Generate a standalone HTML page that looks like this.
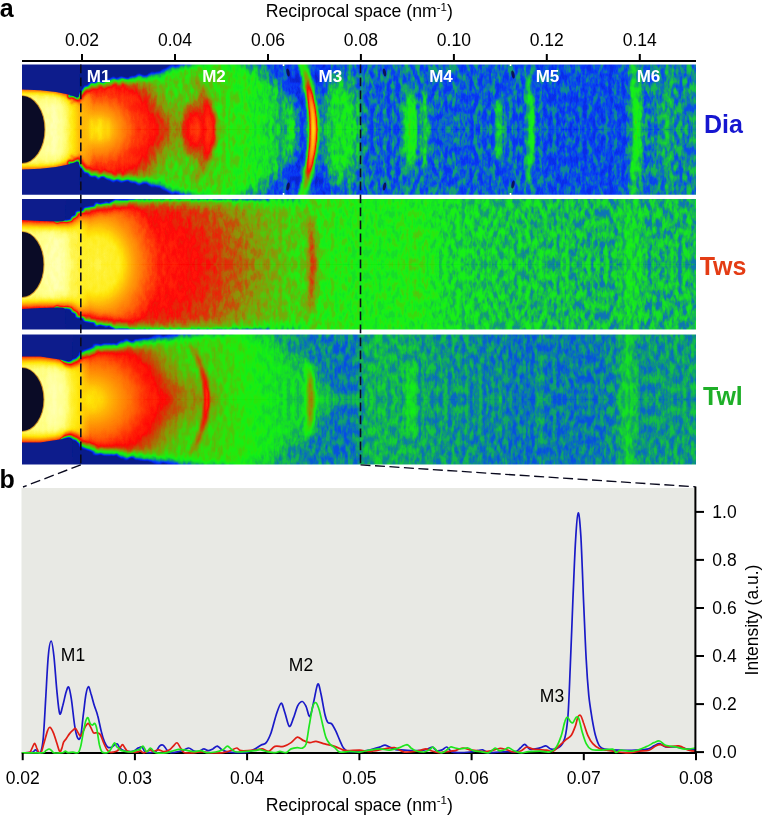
<!DOCTYPE html>
<html><head><meta charset="utf-8"><title>Figure</title>
<style>html,body{margin:0;padding:0;background:#fff}svg{display:block}text{font-family:'Liberation Sans', Arial, sans-serif}</style>
</head><body>
<svg width="762" height="816" viewBox="0 0 762 816">
<defs>
<filter id="cm" color-interpolation-filters="sRGB" filterUnits="userSpaceOnUse" x="0" y="-2" width="674" height="72">
<feComponentTransfer>
<feFuncR type="table" tableValues="0.039 0.039 0.039 0.024 0.008 0.005 0.001 0.006 0.016 0.040 0.060 0.067 0.047 0.121 0.257 0.393 0.529 0.647 0.765 0.882 1.000 1.000 1.000 1.000 1.000 1.000 1.000 1.000 1.000 1.000 1.000 1.000 1.000 1.000 1.000 1.000 1.000 1.000 1.000 1.000 1.000"/>
<feFuncG type="table" tableValues="0.110 0.110 0.110 0.110 0.110 0.146 0.182 0.277 0.412 0.576 0.731 0.860 0.946 0.915 0.806 0.697 0.588 0.441 0.294 0.147 0.000 0.098 0.196 0.294 0.392 0.486 0.565 0.643 0.722 0.800 0.878 0.921 0.940 0.959 0.977 0.996 1.000 1.000 1.000 1.000 1.000"/>
<feFuncB type="table" tableValues="0.549 0.549 0.549 0.676 0.804 0.886 0.967 0.904 0.745 0.488 0.275 0.142 0.069 0.033 0.022 0.011 0.000 0.000 0.000 0.000 0.000 0.000 0.000 0.000 0.000 0.000 0.000 0.000 0.000 0.000 0.000 0.061 0.163 0.266 0.368 0.470 0.529 0.578 0.627 0.676 0.725"/>
</feComponentTransfer>
</filter>
<filter id="rag" color-interpolation-filters="sRGB" x="-10%" y="-10%" width="120%" height="120%">
<feTurbulence type="fractalNoise" baseFrequency="0.14 0.25" numOctaves="2" seed="7" result="t"/>
<feDisplacementMap in="SourceGraphic" in2="t" scale="8" xChannelSelector="R" yChannelSelector="G" result="d"/>
<feGaussianBlur in="d" stdDeviation="1.3"/>
</filter>
<filter id="smooth" x="-10%" y="-10%" width="120%" height="120%"><feGaussianBlur stdDeviation="0.6"/></filter>
<clipPath id="cliphalf"><rect x="0" y="0" width="674" height="66"/></clipPath><clipPath id="clipfull"><rect x="0" y="0" width="674" height="131"/></clipPath><filter id="b8" filterUnits="userSpaceOnUse" x="-60" y="-80" width="800" height="300"><feGaussianBlur stdDeviation="8"/></filter><radialGradient id="rg1"><stop offset="0" stop-color="rgb(187,187,187)" stop-opacity="1"/><stop offset="0.1" stop-color="rgb(178,178,178)" stop-opacity="1"/><stop offset="0.2" stop-color="rgb(163,163,163)" stop-opacity="1"/><stop offset="0.3" stop-color="rgb(148,148,148)" stop-opacity="1"/><stop offset="0.4" stop-color="rgb(135,135,135)" stop-opacity="1"/><stop offset="0.51" stop-color="rgb(128,128,128)" stop-opacity="1"/><stop offset="0.58" stop-color="rgb(117,117,117)" stop-opacity="1"/><stop offset="0.66" stop-color="rgb(105,105,105)" stop-opacity="1"/><stop offset="0.76" stop-color="rgb(92,92,92)" stop-opacity="0.9"/><stop offset="0.88" stop-color="rgb(84,84,84)" stop-opacity="0.5"/><stop offset="1" stop-color="rgb(82,82,82)" stop-opacity="0"/></radialGradient><filter id="b7" filterUnits="userSpaceOnUse" x="-60" y="-80" width="800" height="300"><feGaussianBlur stdDeviation="7"/></filter><filter id="b1_2" filterUnits="userSpaceOnUse" x="-60" y="-80" width="800" height="300"><feGaussianBlur stdDeviation="1.2"/></filter><linearGradient id="hg2" gradientUnits="userSpaceOnUse" x1="-2" y1="0" x2="72" y2="0"><stop offset="0.0000" stop-color="rgb(219,219,219)" stop-opacity="1"/><stop offset="0.3000" stop-color="rgb(224,224,224)" stop-opacity="1"/><stop offset="0.4500" stop-color="rgb(230,230,230)" stop-opacity="1"/><stop offset="0.5500" stop-color="rgb(219,219,219)" stop-opacity="1"/><stop offset="0.6500" stop-color="rgb(201,201,201)" stop-opacity="1"/><stop offset="0.7400" stop-color="rgb(184,184,184)" stop-opacity="1"/><stop offset="0.8000" stop-color="rgb(173,173,173)" stop-opacity="1"/><stop offset="0.8700" stop-color="rgb(173,173,173)" stop-opacity="0.8"/><stop offset="1.0000" stop-color="rgb(178,178,178)" stop-opacity="0"/></linearGradient><filter id="b5" filterUnits="userSpaceOnUse" x="-60" y="-80" width="800" height="300"><feGaussianBlur stdDeviation="5"/></filter><radialGradient id="rg3"><stop offset="0" stop-color="rgb(255,255,255)" stop-opacity="0.22"/><stop offset="0.55" stop-color="rgb(255,255,255)" stop-opacity="0.16"/><stop offset="1" stop-color="rgb(255,255,255)" stop-opacity="0"/></radialGradient><linearGradient id="ag_1m2" gradientUnits="userSpaceOnUse" x1="0" y1="9.5" x2="0" y2="121.5"><stop offset="0.0000" stop-color="rgb(255,255,255)" stop-opacity="0"/><stop offset="0.1200" stop-color="rgb(255,255,255)" stop-opacity="0.099"/><stop offset="0.3000" stop-color="rgb(255,255,255)" stop-opacity="0.187"/><stop offset="0.5000" stop-color="rgb(255,255,255)" stop-opacity="0.22"/><stop offset="0.7000" stop-color="rgb(255,255,255)" stop-opacity="0.187"/><stop offset="0.8800" stop-color="rgb(255,255,255)" stop-opacity="0.099"/><stop offset="1.0000" stop-color="rgb(255,255,255)" stop-opacity="0"/></linearGradient><filter id="b2_5" filterUnits="userSpaceOnUse" x="-60" y="-80" width="800" height="300"><feGaussianBlur stdDeviation="2.5"/></filter><filter id="b6" filterUnits="userSpaceOnUse" x="-60" y="-80" width="800" height="300"><feGaussianBlur stdDeviation="6"/></filter><filter id="b2" filterUnits="userSpaceOnUse" x="-60" y="-80" width="800" height="300"><feGaussianBlur stdDeviation="2"/></filter><filter id="b2_3" filterUnits="userSpaceOnUse" x="-60" y="-80" width="800" height="300"><feGaussianBlur stdDeviation="2.3"/></filter><linearGradient id="ag_1m3t" gradientUnits="userSpaceOnUse" x1="0" y1="3.5" x2="0" y2="127.5"><stop offset="0.0000" stop-color="rgb(255,255,255)" stop-opacity="0"/><stop offset="0.1200" stop-color="rgb(255,255,255)" stop-opacity="0.135"/><stop offset="0.3000" stop-color="rgb(255,255,255)" stop-opacity="0.255"/><stop offset="0.5000" stop-color="rgb(255,255,255)" stop-opacity="0.3"/><stop offset="0.7000" stop-color="rgb(255,255,255)" stop-opacity="0.255"/><stop offset="0.8800" stop-color="rgb(255,255,255)" stop-opacity="0.135"/><stop offset="1.0000" stop-color="rgb(255,255,255)" stop-opacity="0"/></linearGradient><filter id="b1_4" filterUnits="userSpaceOnUse" x="-60" y="-80" width="800" height="300"><feGaussianBlur stdDeviation="1.4"/></filter><linearGradient id="ag_1m3" gradientUnits="userSpaceOnUse" x1="0" y1="15.5" x2="0" y2="115.5"><stop offset="0.0000" stop-color="rgb(255,255,255)" stop-opacity="0"/><stop offset="0.1200" stop-color="rgb(255,255,255)" stop-opacity="0.18000000000000002"/><stop offset="0.3000" stop-color="rgb(255,255,255)" stop-opacity="0.34"/><stop offset="0.5000" stop-color="rgb(255,255,255)" stop-opacity="0.4"/><stop offset="0.7000" stop-color="rgb(255,255,255)" stop-opacity="0.34"/><stop offset="0.8800" stop-color="rgb(255,255,255)" stop-opacity="0.18000000000000002"/><stop offset="1.0000" stop-color="rgb(255,255,255)" stop-opacity="0"/></linearGradient><filter id="b1_6" filterUnits="userSpaceOnUse" x="-60" y="-80" width="800" height="300"><feGaussianBlur stdDeviation="1.6"/></filter><filter id="b3" filterUnits="userSpaceOnUse" x="-60" y="-80" width="800" height="300"><feGaussianBlur stdDeviation="3"/></filter><linearGradient id="ag_1m5" gradientUnits="userSpaceOnUse" x1="0" y1="-4.5" x2="0" y2="135.5"><stop offset="0.0000" stop-color="rgb(255,255,255)" stop-opacity="0"/><stop offset="0.1200" stop-color="rgb(255,255,255)" stop-opacity="0.0675"/><stop offset="0.3000" stop-color="rgb(255,255,255)" stop-opacity="0.1275"/><stop offset="0.5000" stop-color="rgb(255,255,255)" stop-opacity="0.15"/><stop offset="0.7000" stop-color="rgb(255,255,255)" stop-opacity="0.1275"/><stop offset="0.8800" stop-color="rgb(255,255,255)" stop-opacity="0.0675"/><stop offset="1.0000" stop-color="rgb(255,255,255)" stop-opacity="0"/></linearGradient><linearGradient id="ag_1m6" gradientUnits="userSpaceOnUse" x1="0" y1="-14.5" x2="0" y2="145.5"><stop offset="0.0000" stop-color="rgb(255,255,255)" stop-opacity="0"/><stop offset="0.1200" stop-color="rgb(255,255,255)" stop-opacity="0.07200000000000001"/><stop offset="0.3000" stop-color="rgb(255,255,255)" stop-opacity="0.136"/><stop offset="0.5000" stop-color="rgb(255,255,255)" stop-opacity="0.16"/><stop offset="0.7000" stop-color="rgb(255,255,255)" stop-opacity="0.136"/><stop offset="0.8800" stop-color="rgb(255,255,255)" stop-opacity="0.07200000000000001"/><stop offset="1.0000" stop-color="rgb(255,255,255)" stop-opacity="0"/></linearGradient><filter id="b2_2" filterUnits="userSpaceOnUse" x="-60" y="-80" width="800" height="300"><feGaussianBlur stdDeviation="2.2"/></filter><linearGradient id="bg_p1" gradientUnits="userSpaceOnUse" x1="0" y1="0" x2="674" y2="0"><stop offset="0.0000" stop-color="rgb(87,87,87)" stop-opacity="1"/><stop offset="0.2344" stop-color="rgb(87,87,87)" stop-opacity="1"/><stop offset="0.2864" stop-color="rgb(85,85,85)" stop-opacity="1"/><stop offset="0.3234" stop-color="rgb(80,80,80)" stop-opacity="1"/><stop offset="0.3442" stop-color="rgb(75,75,75)" stop-opacity="1"/><stop offset="0.3650" stop-color="rgb(69,69,69)" stop-opacity="1"/><stop offset="0.3858" stop-color="rgb(62,62,62)" stop-opacity="1"/><stop offset="0.4006" stop-color="rgb(57,57,57)" stop-opacity="1"/><stop offset="0.4169" stop-color="rgb(52,52,52)" stop-opacity="1"/><stop offset="0.4496" stop-color="rgb(51,51,51)" stop-opacity="1"/><stop offset="0.4866" stop-color="rgb(50,50,50)" stop-opacity="1"/><stop offset="0.5104" stop-color="rgb(47,47,47)" stop-opacity="1"/><stop offset="0.5534" stop-color="rgb(47,47,47)" stop-opacity="1"/><stop offset="0.5757" stop-color="rgb(50,50,50)" stop-opacity="1"/><stop offset="0.6053" stop-color="rgb(47,47,47)" stop-opacity="1"/><stop offset="0.6647" stop-color="rgb(46,46,46)" stop-opacity="1"/><stop offset="0.7537" stop-color="rgb(46,46,46)" stop-opacity="1"/><stop offset="0.7982" stop-color="rgb(43,43,43)" stop-opacity="1"/><stop offset="0.8872" stop-color="rgb(43,43,43)" stop-opacity="1"/><stop offset="0.9288" stop-color="rgb(51,51,51)" stop-opacity="1"/><stop offset="1.0000" stop-color="rgb(54,54,54)" stop-opacity="1"/></linearGradient>
<filter id="nz_p1" color-interpolation-filters="sRGB" filterUnits="userSpaceOnUse" x="0" y="-2" width="674" height="72">
<feTurbulence type="fractalNoise" baseFrequency="0.23 0.10" numOctaves="3" seed="3" result="n"/>
<feColorMatrix in="n" type="matrix" values="2.4 0 0 0 -0.7  2.4 0 0 0 -0.7  2.4 0 0 0 -0.7  0 0 0 0 1" result="ng"/>
<feComposite in="SourceGraphic" in2="ng" operator="arithmetic" k1="-0.1742" k2="1.0871" k3="0.115" k4="-0.0575"/>
</filter><linearGradient id="vs_p1" gradientUnits="userSpaceOnUse" x1="0" y1="0" x2="0" y2="131"><stop offset="0.0000" stop-color="#000" stop-opacity="0"/><stop offset="1.0000" stop-color="#000" stop-opacity="0"/></linearGradient><filter id="b2_0" filterUnits="userSpaceOnUse" x="-60" y="-80" width="800" height="300"><feGaussianBlur stdDeviation="2.0"/></filter><filter id="b2_8" filterUnits="userSpaceOnUse" x="-60" y="-80" width="800" height="300"><feGaussianBlur stdDeviation="2.8"/></filter><filter id="b4" filterUnits="userSpaceOnUse" x="-60" y="-80" width="800" height="300"><feGaussianBlur stdDeviation="4"/></filter>
<g id="half_p1" clip-path="url(#cliphalf)">
<g filter="url(#cm)">
<g filter="url(#nz_p1)">
<rect x="0" y="-2" width="674" height="72" fill="url(#bg_p1)"/>
<ellipse cx="150" cy="65.5" rx="34" ry="22" fill="rgb(255,255,255)" fill-opacity="0.13" filter="url(#b8)"/><ellipse cx="76" cy="65.5" rx="100" ry="92" fill="url(#rg1)" /><ellipse cx="148" cy="65.5" rx="22" ry="16" fill="rgb(255,255,255)" fill-opacity="0.06" filter="url(#b7)"/><ellipse cx="69" cy="65.5" rx="1.6" ry="12" fill="rgb(255,255,255)" fill-opacity="0.1" filter="url(#b1_2)"/><ellipse cx="78" cy="65.5" rx="1.6" ry="12" fill="rgb(255,255,255)" fill-opacity="0.1" filter="url(#b1_2)"/><ellipse cx="86.5" cy="65.5" rx="1.6" ry="12" fill="rgb(255,255,255)" fill-opacity="0.05" filter="url(#b1_2)"/><rect x="-2" y="-2" width="74" height="72" fill="url(#hg2)"/><ellipse cx="33" cy="65.5" rx="9" ry="24" fill="rgb(255,255,255)" fill-opacity="0.42" filter="url(#b5)"/><ellipse cx="176" cy="65.5" rx="19" ry="38" fill="url(#rg3)" /><path d="M168.0 9.5 Q212.0 65.5 168.0 121.5" fill="none" stroke="url(#ag_1m2)" stroke-width="8" filter="url(#b2_5)"/><path d="M178.0 -14.0 L213.0 0.0 L240.0 8.0 L260.0 24.0 L274.0 44.0 L284.0 65.5 L308.0 65.5 L308.0 -14.0Z" fill="rgb(0,0,0)" fill-opacity="0.34" filter="url(#b6)"/><ellipse cx="269" cy="65.5" rx="3" ry="28" fill="rgb(255,255,255)" fill-opacity="0.1" filter="url(#b2)"/><path d="M279.5 -4.5 Q303.5 65.5 279.5 135.5" fill="none" stroke="rgb(255,255,255)" stroke-opacity="0.24" stroke-width="9" filter="url(#b2_3)"/><path d="M281.0 3.5 Q302.0 65.5 281.0 127.5" fill="none" stroke="url(#ag_1m3t)" stroke-width="4.5" filter="url(#b1_4)"/><path d="M283.0 15.5 Q300.0 65.5 283.0 115.5" fill="none" stroke="url(#ag_1m3)" stroke-width="6.5" filter="url(#b1_6)"/><ellipse cx="316" cy="65.5" rx="22" ry="52" fill="rgb(255,255,255)" fill-opacity="0.105" filter="url(#b8)"/><ellipse cx="388" cy="65.5" rx="5.5" ry="38" fill="rgb(255,255,255)" fill-opacity="0.17" filter="url(#b3)"/><ellipse cx="403" cy="65.5" rx="3.5" ry="40" fill="rgb(255,255,255)" fill-opacity="0.1" filter="url(#b2)"/><ellipse cx="477" cy="65.5" rx="4" ry="34" fill="rgb(255,255,255)" fill-opacity="0.1" filter="url(#b2)"/><path d="M504.0 -4.5 Q514.0 65.5 504.0 135.5" fill="none" stroke="url(#ag_1m5)" stroke-width="6.5" filter="url(#b2)"/><path d="M608.5 -14.5 Q620.5 65.5 608.5 145.5" fill="none" stroke="url(#ag_1m6)" stroke-width="9" filter="url(#b2_2)"/><ellipse cx="646" cy="65.5" rx="5" ry="60" fill="rgb(255,255,255)" fill-opacity="0.05" filter="url(#b3)"/>
<path d="M-20 -20 L-20 25.4 L0.0 25.4 18.0 26.2 34.0 28.0 44.0 30.0 50.0 31.6 55.0 33.5 59.7 25.5 64.0 21.5 69.0 18.5 78.0 16.3 84.6 15.0 103.0 12.3 121.4 10.4 134.5 7.0 145.0 3.3 153.0 0.5 168.0 -3.5 193.0 -6.0 L193.0 -20 Z" transform="translate(0,0)" fill="#000" fill-opacity="0.3" filter="url(#b2_0)"/><path d="M-20 -20 L-20 25.4 L0.0 25.4 18.0 26.2 34.0 28.0 44.0 30.0 50.0 31.6 55.0 33.5 59.7 25.5 64.0 21.5 69.0 18.5 78.0 16.3 84.6 15.0 103.0 12.3 121.4 10.4 134.5 7.0 145.0 3.3 153.0 0.5 168.0 -3.5 193.0 -6.0 L193.0 -20 Z" transform="translate(1.2,3.5)" fill="#000" fill-opacity="0.16" filter="url(#b2_8)"/><path d="M-20 -20 L-20 25.4 L0.0 25.4 18.0 26.2 34.0 28.0 44.0 30.0 50.0 31.6 55.0 33.5 59.7 25.5 64.0 21.5 69.0 18.5 78.0 16.3 84.6 15.0 103.0 12.3 121.4 10.4 134.5 7.0 145.0 3.3 153.0 0.5 168.0 -3.5 193.0 -6.0 L193.0 -20 Z" transform="translate(2.5,8)" fill="#000" fill-opacity="0.08" filter="url(#b4)"/>
</g>
<path d="M47 -20 L47 31.5 L52.0 31.5 55.0 33.3 59.7 25.5 64.0 21.5 69.0 18.5 78.0 16.3 84.6 15.0 103.0 12.3 121.4 10.4 134.5 7.0 145.0 3.3 153.0 0.5 168.0 -3.5 193.0 -6.0 L193.0 -20 Z" transform="translate(1.2,2.6)" fill="#000" fill-opacity="0.26" filter="url(#rag)"/><path d="M47 -20 L47 31.5 L52.0 31.5 55.0 33.3 59.7 25.5 64.0 21.5 69.0 18.5 78.0 16.3 84.6 15.0 103.0 12.3 121.4 10.4 134.5 7.0 145.0 3.3 153.0 0.5 168.0 -3.5 193.0 -6.0 L193.0 -20 Z" transform="translate(2.5,6.5)" fill="#000" fill-opacity="0.16" filter="url(#rag)"/>
<path d="M47 -20 L47 31.5 L52.0 31.5 55.0 33.3 59.7 25.5 64.0 21.5 69.0 18.5 78.0 16.3 84.6 15.0 103.0 12.3 121.4 10.4 134.5 7.0 145.0 3.3 153.0 0.5 168.0 -3.5 193.0 -6.0 L193.0 -20 Z" fill="#000" filter="url(#rag)"/>
</g>
<path d="M-20 -20 L-20 25.4 L0.0 25.4 18.0 26.2 34.0 28.0 44.0 30.0 50.0 31.6 55.0 33.5 57.0 32.5 58.0 0.0 L58.0 -20 Z" fill="#0a1c8c" filter="url(#smooth)"/>
</g><radialGradient id="rg4"><stop offset="0" stop-color="rgb(135,135,135)" stop-opacity="1"/><stop offset="0.2" stop-color="rgb(129,129,129)" stop-opacity="1"/><stop offset="0.4" stop-color="rgb(122,122,122)" stop-opacity="1"/><stop offset="0.5" stop-color="rgb(116,116,116)" stop-opacity="1"/><stop offset="0.62" stop-color="rgb(108,108,108)" stop-opacity="1"/><stop offset="0.74" stop-color="rgb(99,99,99)" stop-opacity="1"/><stop offset="0.86" stop-color="rgb(91,91,91)" stop-opacity="0.8"/><stop offset="1" stop-color="rgb(84,84,84)" stop-opacity="0"/></radialGradient><radialGradient id="rg5"><stop offset="0" stop-color="rgb(201,201,201)" stop-opacity="1"/><stop offset="0.34" stop-color="rgb(195,195,195)" stop-opacity="1"/><stop offset="0.5" stop-color="rgb(173,173,173)" stop-opacity="1"/><stop offset="0.66" stop-color="rgb(156,156,156)" stop-opacity="1"/><stop offset="0.8" stop-color="rgb(143,143,143)" stop-opacity="1"/><stop offset="0.92" stop-color="rgb(136,136,136)" stop-opacity="0.8"/><stop offset="1" stop-color="rgb(133,133,133)" stop-opacity="0"/></radialGradient><filter id="b1_3" filterUnits="userSpaceOnUse" x="-60" y="-80" width="800" height="300"><feGaussianBlur stdDeviation="1.3"/></filter><linearGradient id="hg6" gradientUnits="userSpaceOnUse" x1="-2" y1="0" x2="68" y2="0"><stop offset="0.0000" stop-color="rgb(219,219,219)" stop-opacity="1"/><stop offset="0.3000" stop-color="rgb(224,224,224)" stop-opacity="1"/><stop offset="0.5000" stop-color="rgb(230,230,230)" stop-opacity="1"/><stop offset="0.6400" stop-color="rgb(222,222,222)" stop-opacity="1"/><stop offset="0.7400" stop-color="rgb(207,207,207)" stop-opacity="1"/><stop offset="0.8400" stop-color="rgb(199,199,199)" stop-opacity="1"/><stop offset="0.9200" stop-color="rgb(196,196,196)" stop-opacity="0.5"/><stop offset="1.0000" stop-color="rgb(194,194,194)" stop-opacity="0"/></linearGradient><linearGradient id="ag_2m3" gradientUnits="userSpaceOnUse" x1="0" y1="9.5" x2="0" y2="121.5"><stop offset="0.0000" stop-color="rgb(255,255,255)" stop-opacity="0"/><stop offset="0.1200" stop-color="rgb(255,255,255)" stop-opacity="0.0945"/><stop offset="0.3000" stop-color="rgb(255,255,255)" stop-opacity="0.1785"/><stop offset="0.5000" stop-color="rgb(255,255,255)" stop-opacity="0.21"/><stop offset="0.7000" stop-color="rgb(255,255,255)" stop-opacity="0.1785"/><stop offset="0.8800" stop-color="rgb(255,255,255)" stop-opacity="0.0945"/><stop offset="1.0000" stop-color="rgb(255,255,255)" stop-opacity="0"/></linearGradient><filter id="b2_4" filterUnits="userSpaceOnUse" x="-60" y="-80" width="800" height="300"><feGaussianBlur stdDeviation="2.4"/></filter><linearGradient id="bg_p2" gradientUnits="userSpaceOnUse" x1="0" y1="0" x2="674" y2="0"><stop offset="0.0000" stop-color="rgb(128,128,128)" stop-opacity="1"/><stop offset="0.3561" stop-color="rgb(92,92,92)" stop-opacity="1"/><stop offset="0.3976" stop-color="rgb(87,87,87)" stop-opacity="1"/><stop offset="0.4570" stop-color="rgb(80,80,80)" stop-opacity="1"/><stop offset="0.5015" stop-color="rgb(76,76,76)" stop-opacity="1"/><stop offset="0.5608" stop-color="rgb(75,75,75)" stop-opacity="1"/><stop offset="0.5979" stop-color="rgb(74,74,74)" stop-opacity="1"/><stop offset="0.6350" stop-color="rgb(68,68,68)" stop-opacity="1"/><stop offset="0.7092" stop-color="rgb(64,64,64)" stop-opacity="1"/><stop offset="0.7982" stop-color="rgb(62,62,62)" stop-opacity="1"/><stop offset="0.8576" stop-color="rgb(60,60,60)" stop-opacity="1"/><stop offset="0.8798" stop-color="rgb(60,60,60)" stop-opacity="1"/><stop offset="0.9021" stop-color="rgb(64,64,64)" stop-opacity="1"/><stop offset="0.9288" stop-color="rgb(60,60,60)" stop-opacity="1"/><stop offset="1.0000" stop-color="rgb(61,61,61)" stop-opacity="1"/></linearGradient>
<filter id="nz_p2" color-interpolation-filters="sRGB" filterUnits="userSpaceOnUse" x="0" y="-2" width="674" height="72">
<feTurbulence type="fractalNoise" baseFrequency="0.23 0.10" numOctaves="3" seed="11" result="n"/>
<feColorMatrix in="n" type="matrix" values="2.4 0 0 0 -0.7  2.4 0 0 0 -0.7  2.4 0 0 0 -0.7  0 0 0 0 1" result="ng"/>
<feComposite in="SourceGraphic" in2="ng" operator="arithmetic" k1="-0.1818" k2="1.0909" k3="0.12" k4="-0.06"/>
</filter><linearGradient id="vs_p2" gradientUnits="userSpaceOnUse" x1="0" y1="0" x2="0" y2="131"><stop offset="0.0000" stop-color="#000" stop-opacity="0"/><stop offset="1.0000" stop-color="#000" stop-opacity="0"/></linearGradient><filter id="b3_0" filterUnits="userSpaceOnUse" x="-60" y="-80" width="800" height="300"><feGaussianBlur stdDeviation="3.0"/></filter><filter id="b4_2" filterUnits="userSpaceOnUse" x="-60" y="-80" width="800" height="300"><feGaussianBlur stdDeviation="4.2"/></filter>
<g id="half_p2" clip-path="url(#cliphalf)">
<g filter="url(#cm)">
<g filter="url(#nz_p2)">
<rect x="0" y="-2" width="674" height="72" fill="url(#bg_p2)"/>
<ellipse cx="108" cy="65.5" rx="175" ry="140" fill="url(#rg4)" /><ellipse cx="75" cy="65.5" rx="64" ry="78" fill="url(#rg5)" /><rect x="97" y="-3" width="150" height="4.5" fill="#000" fill-opacity="0.32" filter="url(#b1_3)"/><rect x="-2" y="-2" width="70" height="72" fill="url(#hg6)"/><ellipse cx="33" cy="65.5" rx="10" ry="28" fill="rgb(255,255,255)" fill-opacity="0.42" filter="url(#b5)"/><path d="M285.5 9.5 Q296.5 65.5 285.5 121.5" fill="none" stroke="url(#ag_2m3)" stroke-width="8" filter="url(#b2_4)"/><ellipse cx="392" cy="65.5" rx="14" ry="50" fill="rgb(255,255,255)" fill-opacity="0.03" filter="url(#b6)"/><ellipse cx="610" cy="65.5" rx="10" ry="60" fill="rgb(255,255,255)" fill-opacity="0.03" filter="url(#b4)"/>
<path d="M-20 -20 L-20 21.0 L0.0 21.0 18.0 22.0 36.0 22.6 43.0 22.0 50.0 19.0 58.0 11.8 68.0 6.8 79.0 4.2 89.0 2.5 96.0 0.5 113.0 -2.5 148.0 -4.0 278.0 -4.0 L278.0 -20 Z" transform="translate(0,0)" fill="#000" fill-opacity="0.3" filter="url(#b2_2)"/><path d="M-20 -20 L-20 21.0 L0.0 21.0 18.0 22.0 36.0 22.6 43.0 22.0 50.0 19.0 58.0 11.8 68.0 6.8 79.0 4.2 89.0 2.5 96.0 0.5 113.0 -2.5 148.0 -4.0 278.0 -4.0 L278.0 -20 Z" transform="translate(1.5,4.5)" fill="#000" fill-opacity="0.25" filter="url(#b3_0)"/><path d="M-20 -20 L-20 21.0 L0.0 21.0 18.0 22.0 36.0 22.6 43.0 22.0 50.0 19.0 58.0 11.8 68.0 6.8 79.0 4.2 89.0 2.5 96.0 0.5 113.0 -2.5 148.0 -4.0 278.0 -4.0 L278.0 -20 Z" transform="translate(3,9.5)" fill="#000" fill-opacity="0.17" filter="url(#b4_2)"/>
</g>
<path d="M34 -20 L34 22.8 L39.0 22.8 43.0 22.0 50.0 19.0 58.0 11.8 68.0 6.8 79.0 4.2 89.0 2.5 96.0 0.5 113.0 -3.0 138.0 -5.0 L138.0 -20 Z" transform="translate(1.0,2.0)" fill="#000" fill-opacity="0.25" filter="url(#rag)"/>
<path d="M34 -20 L34 22.8 L39.0 22.8 43.0 22.0 50.0 19.0 58.0 11.8 68.0 6.8 79.0 4.2 89.0 2.5 96.0 0.5 113.0 -3.0 138.0 -5.0 L138.0 -20 Z" fill="#000" filter="url(#rag)"/>
</g>
<path d="M-20 -20 L-20 21.0 L0.0 21.0 18.0 22.0 36.0 22.6 41.0 22.3 43.0 21.0 44.0 0.0 L44.0 -20 Z" fill="#0a1c8c" filter="url(#smooth)"/>
</g><radialGradient id="rg7"><stop offset="0" stop-color="rgb(190,190,190)" stop-opacity="1"/><stop offset="0.08" stop-color="rgb(184,184,184)" stop-opacity="1"/><stop offset="0.24" stop-color="rgb(163,163,163)" stop-opacity="1"/><stop offset="0.36" stop-color="rgb(148,148,148)" stop-opacity="1"/><stop offset="0.46" stop-color="rgb(133,133,133)" stop-opacity="1"/><stop offset="0.53" stop-color="rgb(125,125,125)" stop-opacity="1"/><stop offset="0.6" stop-color="rgb(115,115,115)" stop-opacity="1"/><stop offset="0.68" stop-color="rgb(103,103,103)" stop-opacity="1"/><stop offset="0.78" stop-color="rgb(92,92,92)" stop-opacity="0.9"/><stop offset="0.9" stop-color="rgb(84,84,84)" stop-opacity="0.5"/><stop offset="1" stop-color="rgb(82,82,82)" stop-opacity="0"/></radialGradient><linearGradient id="hg8" gradientUnits="userSpaceOnUse" x1="-2" y1="0" x2="68" y2="0"><stop offset="0.0000" stop-color="rgb(219,219,219)" stop-opacity="1"/><stop offset="0.3000" stop-color="rgb(224,224,224)" stop-opacity="1"/><stop offset="0.5000" stop-color="rgb(230,230,230)" stop-opacity="1"/><stop offset="0.6400" stop-color="rgb(219,219,219)" stop-opacity="1"/><stop offset="0.7400" stop-color="rgb(201,201,201)" stop-opacity="1"/><stop offset="0.8400" stop-color="rgb(189,189,189)" stop-opacity="1"/><stop offset="0.9200" stop-color="rgb(184,184,184)" stop-opacity="0.5"/><stop offset="1.0000" stop-color="rgb(184,184,184)" stop-opacity="0"/></linearGradient><linearGradient id="ag_3m2" gradientUnits="userSpaceOnUse" x1="0" y1="5.5" x2="0" y2="125.5"><stop offset="0.0000" stop-color="rgb(255,255,255)" stop-opacity="0"/><stop offset="0.1200" stop-color="rgb(255,255,255)" stop-opacity="0.108"/><stop offset="0.3000" stop-color="rgb(255,255,255)" stop-opacity="0.204"/><stop offset="0.5000" stop-color="rgb(255,255,255)" stop-opacity="0.24"/><stop offset="0.7000" stop-color="rgb(255,255,255)" stop-opacity="0.204"/><stop offset="0.8800" stop-color="rgb(255,255,255)" stop-opacity="0.108"/><stop offset="1.0000" stop-color="rgb(255,255,255)" stop-opacity="0"/></linearGradient><filter id="b1_8" filterUnits="userSpaceOnUse" x="-60" y="-80" width="800" height="300"><feGaussianBlur stdDeviation="1.8"/></filter><linearGradient id="ag_3m3" gradientUnits="userSpaceOnUse" x1="0" y1="23.5" x2="0" y2="107.5"><stop offset="0.0000" stop-color="rgb(255,255,255)" stop-opacity="0"/><stop offset="0.1200" stop-color="rgb(255,255,255)" stop-opacity="0.1125"/><stop offset="0.3000" stop-color="rgb(255,255,255)" stop-opacity="0.2125"/><stop offset="0.5000" stop-color="rgb(255,255,255)" stop-opacity="0.25"/><stop offset="0.7000" stop-color="rgb(255,255,255)" stop-opacity="0.2125"/><stop offset="0.8800" stop-color="rgb(255,255,255)" stop-opacity="0.1125"/><stop offset="1.0000" stop-color="rgb(255,255,255)" stop-opacity="0"/></linearGradient><linearGradient id="bg_p3" gradientUnits="userSpaceOnUse" x1="0" y1="0" x2="674" y2="0"><stop offset="0.0000" stop-color="rgb(87,87,87)" stop-opacity="1"/><stop offset="0.2493" stop-color="rgb(87,87,87)" stop-opacity="1"/><stop offset="0.2864" stop-color="rgb(87,87,87)" stop-opacity="1"/><stop offset="0.3234" stop-color="rgb(82,82,82)" stop-opacity="1"/><stop offset="0.3561" stop-color="rgb(74,74,74)" stop-opacity="1"/><stop offset="0.3976" stop-color="rgb(68,68,68)" stop-opacity="1"/><stop offset="0.4421" stop-color="rgb(66,66,66)" stop-opacity="1"/><stop offset="0.4792" stop-color="rgb(63,63,63)" stop-opacity="1"/><stop offset="0.5163" stop-color="rgb(62,62,62)" stop-opacity="1"/><stop offset="0.5608" stop-color="rgb(60,60,60)" stop-opacity="1"/><stop offset="0.6202" stop-color="rgb(57,57,57)" stop-opacity="1"/><stop offset="0.6795" stop-color="rgb(55,55,55)" stop-opacity="1"/><stop offset="0.7240" stop-color="rgb(52,52,52)" stop-opacity="1"/><stop offset="0.8576" stop-color="rgb(52,52,52)" stop-opacity="1"/><stop offset="0.8798" stop-color="rgb(56,56,56)" stop-opacity="1"/><stop offset="0.9243" stop-color="rgb(56,56,56)" stop-opacity="1"/><stop offset="1.0000" stop-color="rgb(58,58,58)" stop-opacity="1"/></linearGradient>
<filter id="nz_p3" color-interpolation-filters="sRGB" filterUnits="userSpaceOnUse" x="0" y="-2" width="674" height="72">
<feTurbulence type="fractalNoise" baseFrequency="0.23 0.10" numOctaves="3" seed="23" result="n"/>
<feColorMatrix in="n" type="matrix" values="2.4 0 0 0 -0.7  2.4 0 0 0 -0.7  2.4 0 0 0 -0.7  0 0 0 0 1" result="ng"/>
<feComposite in="SourceGraphic" in2="ng" operator="arithmetic" k1="-0.1212" k2="1.0606" k3="0.08" k4="-0.04"/>
</filter><linearGradient id="vs_p3" gradientUnits="userSpaceOnUse" x1="0" y1="0" x2="0" y2="131"><stop offset="0.0000" stop-color="#000" stop-opacity="0"/><stop offset="1.0000" stop-color="#000" stop-opacity="0"/></linearGradient>
<g id="half_p3" clip-path="url(#cliphalf)">
<g filter="url(#cm)">
<g filter="url(#nz_p3)">
<rect x="0" y="-2" width="674" height="72" fill="url(#bg_p3)"/>
<ellipse cx="156" cy="65.5" rx="38" ry="24" fill="rgb(255,255,255)" fill-opacity="0.13" filter="url(#b8)"/><ellipse cx="68" cy="65.5" rx="125" ry="108" fill="url(#rg7)" /><ellipse cx="156" cy="65.5" rx="26" ry="18" fill="rgb(255,255,255)" fill-opacity="0.06" filter="url(#b7)"/><rect x="-2" y="-2" width="70" height="72" fill="url(#hg8)"/><ellipse cx="33" cy="65.5" rx="10" ry="28" fill="rgb(255,255,255)" fill-opacity="0.42" filter="url(#b5)"/><path d="M165.0 5.5 Q205.0 65.5 165.0 125.5" fill="none" stroke="url(#ag_3m2)" stroke-width="5" filter="url(#b1_8)"/><path d="M193.0 -14.0 L228.0 0.0 L258.0 10.0 L278.0 26.0 L298.0 51.0 L318.0 65.5 L338.0 65.5 L338.0 -14.0Z" fill="rgb(0,0,0)" fill-opacity="0.18" filter="url(#b7)"/><path d="M284.5 23.5 Q293.5 65.5 284.5 107.5" fill="none" stroke="url(#ag_3m3)" stroke-width="7" filter="url(#b2_2)"/><ellipse cx="389" cy="65.5" rx="4.5" ry="42" fill="rgb(255,255,255)" fill-opacity="0.08" filter="url(#b3)"/><ellipse cx="478" cy="65.5" rx="3" ry="40" fill="rgb(255,255,255)" fill-opacity="0.04" filter="url(#b2)"/><ellipse cx="519" cy="65.5" rx="3" ry="50" fill="rgb(255,255,255)" fill-opacity="0.04" filter="url(#b2)"/><ellipse cx="606" cy="65.5" rx="8" ry="75" fill="rgb(255,255,255)" fill-opacity="0.055" filter="url(#b3)"/>
<path d="M-20 -20 L-20 22.5 L0.0 22.5 18.0 22.6 36.0 25.2 48.7 27.0 57.0 20.4 65.0 14.5 75.0 9.8 84.0 9.0 94.0 9.5 101.0 6.0 118.0 4.5 131.0 2.0 144.0 0.0 168.0 -3.5 208.0 -6.0 L208.0 -20 Z" transform="translate(0,0)" fill="#000" fill-opacity="0.3" filter="url(#b2_2)"/><path d="M-20 -20 L-20 22.5 L0.0 22.5 18.0 22.6 36.0 25.2 48.7 27.0 57.0 20.4 65.0 14.5 75.0 9.8 84.0 9.0 94.0 9.5 101.0 6.0 118.0 4.5 131.0 2.0 144.0 0.0 168.0 -3.5 208.0 -6.0 L208.0 -20 Z" transform="translate(1.5,4.5)" fill="#000" fill-opacity="0.22" filter="url(#b3_0)"/><path d="M-20 -20 L-20 22.5 L0.0 22.5 18.0 22.6 36.0 25.2 48.7 27.0 57.0 20.4 65.0 14.5 75.0 9.8 84.0 9.0 94.0 9.5 101.0 6.0 118.0 4.5 131.0 2.0 144.0 0.0 168.0 -3.5 208.0 -6.0 L208.0 -20 Z" transform="translate(3,9)" fill="#000" fill-opacity="0.12" filter="url(#b4)"/>
</g>
<path d="M40 -20 L40 26.8 L45.0 26.8 49.0 26.8 57.0 20.4 65.0 14.5 75.0 9.8 84.0 9.0 94.0 9.5 101.0 6.0 118.0 4.5 131.0 2.0 144.0 0.0 168.0 -3.5 208.0 -6.0 L208.0 -20 Z" transform="translate(1.2,2.6)" fill="#000" fill-opacity="0.25" filter="url(#rag)"/><path d="M40 -20 L40 26.8 L45.0 26.8 49.0 26.8 57.0 20.4 65.0 14.5 75.0 9.8 84.0 9.0 94.0 9.5 101.0 6.0 118.0 4.5 131.0 2.0 144.0 0.0 168.0 -3.5 208.0 -6.0 L208.0 -20 Z" transform="translate(2.5,6.5)" fill="#000" fill-opacity="0.15" filter="url(#rag)"/>
<path d="M40 -20 L40 26.8 L45.0 26.8 49.0 26.8 57.0 20.4 65.0 14.5 75.0 9.8 84.0 9.0 94.0 9.5 101.0 6.0 118.0 4.5 131.0 2.0 144.0 0.0 168.0 -3.5 208.0 -6.0 L208.0 -20 Z" fill="#000" filter="url(#rag)"/>
</g>
<path d="M-20 -20 L-20 22.5 L0.0 22.5 18.0 22.6 36.0 25.2 44.0 26.5 48.0 27.0 50.0 26.0 51.0 0.0 L51.0 -20 Z" fill="#0a1c8c" filter="url(#smooth)"/>
</g></defs>
<rect width="762" height="816" fill="#fff"/>

<g transform="translate(22,64)">
<use href="#half_p1" transform="matrix(1 0 0 -1 0 131)"/>
<use href="#half_p1"/>
<g clip-path="url(#clipfull)"><ellipse cx="0" cy="65.5" rx="23" ry="34" fill="#0a0b26" stroke="#e09a1e" stroke-opacity="0.75" stroke-width="1.2"/></g>
</g>
<g transform="translate(22,199)">
<use href="#half_p2" transform="matrix(1 0 0 -1 0 131)"/>
<use href="#half_p2"/>
<g clip-path="url(#clipfull)"><ellipse cx="0" cy="65.5" rx="22" ry="33" fill="#0a0b26" stroke="#e09a1e" stroke-opacity="0.75" stroke-width="1.2"/></g>
</g>
<g transform="translate(22,334)">
<use href="#half_p3" transform="matrix(1 0 0 -1 0 131)"/>
<use href="#half_p3"/>
<g clip-path="url(#clipfull)"><ellipse cx="0" cy="65.5" rx="22" ry="32" fill="#0a0b26" stroke="#e09a1e" stroke-opacity="0.75" stroke-width="1.2"/></g>
</g>
<text x="-0.2" y="17.2" font-size="25" text-anchor="start" font-weight="bold" fill="#000" >a</text><text x="-0.5" y="488" font-size="25" text-anchor="start" font-weight="bold" fill="#000" >b</text><text x="359.3" y="17.4" font-size="17.7" text-anchor="middle">Reciprocal space (nm<tspan font-size="11.5" dy="-6.5">-1</tspan><tspan dy="6.5">)</tspan></text><text x="359.3" y="810.6" font-size="17.7" text-anchor="middle">Reciprocal space (nm<tspan font-size="11.5" dy="-6.5">-1</tspan><tspan dy="6.5">)</tspan></text><text x="82.0" y="45.5" font-size="17.5" text-anchor="middle" font-weight="normal" fill="#000" >0.02</text><rect x="81.0" y="54" width="2" height="7" fill="#000"/><text x="175.0" y="45.5" font-size="17.5" text-anchor="middle" font-weight="normal" fill="#000" >0.04</text><rect x="174.0" y="54" width="2" height="7" fill="#000"/><text x="268.0" y="45.5" font-size="17.5" text-anchor="middle" font-weight="normal" fill="#000" >0.06</text><rect x="267.0" y="54" width="2" height="7" fill="#000"/><text x="360.9" y="45.5" font-size="17.5" text-anchor="middle" font-weight="normal" fill="#000" >0.08</text><rect x="359.9" y="54" width="2" height="7" fill="#000"/><text x="453.9" y="45.5" font-size="17.5" text-anchor="middle" font-weight="normal" fill="#000" >0.10</text><rect x="452.9" y="54" width="2" height="7" fill="#000"/><text x="546.8" y="45.5" font-size="17.5" text-anchor="middle" font-weight="normal" fill="#000" >0.12</text><rect x="545.8" y="54" width="2" height="7" fill="#000"/><text x="639.8" y="45.5" font-size="17.5" text-anchor="middle" font-weight="normal" fill="#000" >0.14</text><rect x="638.8" y="54" width="2" height="7" fill="#000"/><rect x="22" y="60" width="674" height="2" fill="#000"/><text x="98.6" y="82" font-size="17" text-anchor="middle" font-weight="bold" fill="#fff" >M1</text><text x="214" y="82" font-size="17" text-anchor="middle" font-weight="bold" fill="#fff" >M2</text><text x="330.3" y="82" font-size="17" text-anchor="middle" font-weight="bold" fill="#fff" >M3</text><text x="441" y="82" font-size="17" text-anchor="middle" font-weight="bold" fill="#fff" >M4</text><text x="547.5" y="82" font-size="17" text-anchor="middle" font-weight="bold" fill="#fff" >M5</text><text x="648.5" y="82" font-size="17" text-anchor="middle" font-weight="bold" fill="#fff" >M6</text><text x="703.9" y="132.7" font-size="25" text-anchor="start" font-weight="bold" fill="#1616d0" >Dia</text><text x="699.7" y="274.9" font-size="25" text-anchor="start" font-weight="bold" fill="#e43c14" >Tws</text><text x="703" y="404.9" font-size="25" text-anchor="start" font-weight="bold" fill="#1eaf28" >Twl</text><path d="M20 62.1H698V64.5H20Z M20 194.7H698V199.1H20Z M20 329.6H698V334.6H20Z M20 464.4H698V466H20Z" fill="#fff"/><ellipse cx="288" cy="72.5" rx="1.5" ry="4" fill="#0c0c3c" fill-opacity="0.85" transform="rotate(-12 288 72.5)"/><ellipse cx="288" cy="186.5" rx="1.5" ry="4" fill="#0c0c3c" fill-opacity="0.85" transform="rotate(12 288 186.5)"/><ellipse cx="384.5" cy="72.5" rx="1.5" ry="4" fill="#0c0c3c" fill-opacity="0.85" transform="rotate(-12 384.5 72.5)"/><ellipse cx="384.5" cy="186.5" rx="1.5" ry="4" fill="#0c0c3c" fill-opacity="0.85" transform="rotate(12 384.5 186.5)"/><ellipse cx="513" cy="74.5" rx="1.5" ry="4" fill="#0c0c3c" fill-opacity="0.85" transform="rotate(-12 513 74.5)"/><ellipse cx="513" cy="184.5" rx="1.5" ry="4" fill="#0c0c3c" fill-opacity="0.85" transform="rotate(12 513 184.5)"/><rect x="282.7" y="64" width="1.6" height="2" fill="#fff"/><rect x="282.7" y="193" width="1.6" height="2" fill="#fff"/><rect x="509.7" y="64" width="1.6" height="2" fill="#fff"/><rect x="509.7" y="193" width="1.6" height="2" fill="#fff"/><path d="M80.8 64.5 V464.6 M360.5 64.5 V464.6" stroke="#0a0a1e" stroke-width="1.6" stroke-dasharray="8.8 4.2" fill="none"/><path d="M80.8 464.8 L23 487 M360.5 464.8 L695.5 486.8" stroke="#0a0a1e" stroke-width="1.35" stroke-dasharray="10 4.5" fill="none"/><rect x="21.5" y="488" width="674.5" height="265" fill="#e8e9e4"/><rect x="22" y="752" width="674.4" height="2" fill="#000"/><path d="M21.8 752.8 C23.5 752.7 29.9 752.9 32.1 752.4 C34.2 751.9 34.5 749.9 35.5 749.8 C36.4 749.7 37.2 751.5 38.0 751.9 C38.9 752.3 39.8 754.3 40.6 752.4 C41.4 750.4 42.3 748.2 43.1 739.6 C44.0 731.0 44.9 712.0 45.7 698.6 C46.5 685.3 47.4 665.2 48.3 656.0 C49.1 646.8 50.3 641.0 51.2 641.0 C52.1 641.0 53.0 648.1 53.9 656.0 C54.8 663.9 55.9 680.9 56.8 690.1 C57.7 699.3 58.7 711.2 59.7 713.7 C60.7 716.1 61.7 709.0 62.8 705.5 C63.8 702.0 65.2 694.8 66.2 691.8 C67.1 688.9 67.9 685.9 68.7 687.0 C69.6 688.1 70.3 692.4 71.3 698.6 C72.3 704.9 73.7 719.6 74.7 725.9 C75.7 732.3 76.8 736.6 77.8 738.2 C78.7 739.9 79.8 739.8 80.7 736.2 C81.6 732.6 82.4 722.3 83.2 715.7 C84.1 709.2 85.0 699.9 85.8 695.2 C86.6 690.6 87.5 687.0 88.4 686.7 C89.2 686.4 90.0 690.5 90.9 693.5 C91.9 696.5 93.2 701.9 94.3 705.5 C95.4 709.0 96.7 711.6 97.7 715.7 C98.8 719.8 100.1 726.8 101.2 731.1 C102.2 735.3 103.5 739.6 104.6 742.1 C105.7 744.7 106.9 746.4 108.0 747.3 C109.1 748.1 110.3 747.7 111.4 747.3 C112.5 746.9 113.8 745.3 114.8 744.7 C115.8 744.2 116.5 743.3 117.4 743.9 C118.2 744.4 118.8 747.0 119.9 748.1 C121.0 749.2 122.4 750.1 124.2 750.7 C126.0 751.2 129.4 751.5 131.0 751.5 C132.6 751.5 133.3 751.2 134.4 750.7 C135.5 750.1 137.2 748.6 137.8 748.1 C138.5 747.7 137.7 748.1 138.4 748.0 C139.0 747.8 141.0 746.5 142.0 747.0 C143.1 747.6 143.6 750.8 144.8 751.6 C146.0 752.5 147.6 752.6 149.4 752.6 C151.2 752.6 154.2 752.7 155.8 751.6 C157.4 750.6 158.3 747.1 159.5 746.1 C160.7 745.1 162.0 744.6 163.2 745.2 C164.4 745.8 165.7 748.6 166.8 749.8 C168.0 751.0 168.6 752.3 170.5 752.6 C172.4 752.8 176.6 752.1 178.8 751.6 C181.0 751.2 182.7 750.4 184.3 749.8 C185.9 749.2 187.4 747.8 188.9 748.0 C190.4 748.1 191.9 750.1 193.5 750.7 C195.1 751.3 197.4 751.9 199.0 751.6 C200.6 751.3 202.1 749.0 203.6 748.9 C205.1 748.7 206.7 750.7 208.2 750.7 C209.7 750.7 211.3 749.6 212.8 748.9 C214.2 748.1 215.9 746.0 217.4 746.1 C218.8 746.3 220.5 748.9 222.0 749.8 C223.4 750.7 224.6 751.2 226.6 751.6 C228.5 752.1 231.0 752.4 233.9 752.6 C236.8 752.7 242.4 752.7 244.9 752.6 C247.5 752.4 248.3 751.9 249.9 751.4 C251.5 750.8 253.1 749.9 254.9 748.9 C256.7 747.9 259.4 746.1 261.2 745.1 C263.0 744.1 264.6 744.6 266.2 742.6 C267.8 740.6 269.5 737.0 271.1 732.7 C272.7 728.3 274.5 719.9 276.1 715.2 C277.7 710.5 279.7 703.6 281.1 703.2 C282.5 702.8 283.5 709.0 284.9 712.7 C286.2 716.4 287.9 725.6 289.3 726.4 C290.7 727.2 292.2 721.0 293.6 717.7 C294.9 714.4 296.4 708.3 297.8 705.7 C299.2 703.1 301.0 701.4 302.3 701.5 C303.6 701.6 304.9 704.1 306.1 706.5 C307.2 708.9 308.6 717.0 309.8 716.5 C311.0 715.9 312.3 707.9 313.5 702.7 C314.8 697.5 316.6 685.4 317.8 684.0 C319.0 682.6 319.9 689.2 321.0 694.0 C322.1 698.8 323.7 709.4 324.8 714.0 C325.8 718.5 326.6 720.6 327.7 722.2 C328.9 723.8 330.4 722.5 331.7 723.9 C333.0 725.4 334.7 728.8 336.0 731.4 C337.2 734.0 338.5 737.5 339.7 740.1 C340.9 742.8 342.1 746.3 343.5 748.1 C344.8 749.9 345.8 750.8 348.4 751.4 C351.0 751.9 356.3 751.6 359.7 751.4 C363.1 751.2 366.4 750.8 369.6 750.1 C372.8 749.4 377.1 747.9 379.6 747.1 C382.1 746.3 383.3 745.0 385.1 745.1 C386.9 745.2 389.1 746.9 390.8 747.6 C392.5 748.3 393.6 749.2 395.8 749.6 C398.0 750.0 400.9 749.9 404.5 750.1 C408.2 750.3 415.0 750.8 418.4 750.7 C421.8 750.7 423.5 750.4 425.7 749.8 C427.9 749.2 430.4 746.9 432.2 747.0 C433.9 747.2 435.1 750.3 436.7 750.7 C438.4 751.2 440.6 750.4 442.3 749.8 C443.9 749.2 445.4 746.7 446.8 747.0 C448.3 747.3 449.5 750.8 451.4 751.6 C453.4 752.5 455.9 752.5 458.8 752.6 C461.7 752.6 466.9 752.3 469.8 752.0 C472.8 751.7 475.1 751.1 477.2 750.7 C479.2 750.4 480.9 749.5 482.7 749.8 C484.4 750.1 485.5 752.2 488.2 752.6 C490.8 752.9 496.3 752.1 499.2 752.0 C502.1 751.9 503.9 751.7 506.6 751.6 C509.2 751.6 513.5 752.2 515.7 751.6 C517.9 751.0 518.9 749.1 520.3 748.0 C521.8 746.8 523.4 744.1 524.9 744.3 C526.5 744.5 527.5 748.6 529.9 749.2 C532.3 749.8 537.3 748.4 539.9 747.9 C542.4 747.4 544.0 745.7 545.8 745.9 C547.7 746.1 549.2 749.1 551.4 749.2 C553.7 749.4 557.6 748.6 559.7 746.9 C561.8 745.2 563.3 743.7 564.7 738.6 C566.0 733.6 567.1 727.1 568.0 715.5 C568.9 703.8 569.5 684.4 570.3 665.8 C571.1 647.3 572.1 619.8 572.9 599.7 C573.8 579.5 574.7 554.0 575.6 540.1 C576.4 526.2 577.4 513.5 578.2 513.0 C579.1 512.4 580.0 522.9 580.9 536.8 C581.7 550.7 582.7 580.1 583.5 599.7 C584.4 619.3 585.3 643.9 586.2 659.2 C587.0 674.6 587.9 686.1 588.8 695.6 C589.8 705.2 591.1 712.4 592.1 718.8 C593.2 725.1 594.3 731.0 595.4 735.3 C596.6 739.7 598.0 743.7 599.4 745.9 C600.8 748.1 601.2 748.5 604.4 749.2 C607.6 749.9 614.2 750.1 619.3 750.2 C624.3 750.4 631.3 750.4 635.8 750.2 C640.3 750.1 644.5 749.9 647.4 749.2 C650.3 748.5 652.0 746.8 654.0 745.9 C656.0 745.0 657.8 743.4 659.6 743.6 C661.5 743.8 663.0 746.4 665.6 746.9 C668.1 747.4 672.3 746.6 675.5 746.9 C678.7 747.2 682.2 748.0 685.4 748.6 C688.7 749.1 694.3 750.0 696.0 750.2" fill="none" stroke="#1a1ac8" stroke-width="1.7" stroke-linejoin="round"/><path d="M21.8 752.8 C23.1 752.7 27.9 753.1 29.5 752.4 C31.1 751.6 31.2 749.6 32.1 748.1 C32.9 746.7 33.9 743.3 34.6 743.3 C35.4 743.3 36.2 746.7 36.8 748.1 C37.5 749.6 38.1 751.8 38.9 752.4 C39.6 753.0 40.6 753.4 41.4 751.9 C42.3 750.4 43.0 746.3 44.0 743.0 C45.0 739.7 46.5 733.6 47.4 731.1 C48.4 728.5 49.0 727.0 50.0 727.3 C50.9 727.6 52.3 730.3 53.4 732.8 C54.5 735.3 55.8 740.0 56.8 743.0 C57.8 746.0 58.9 750.7 59.7 751.5 C60.5 752.3 61.3 749.6 61.9 748.1 C62.5 746.6 62.9 743.6 63.6 742.1 C64.3 740.6 65.2 740.1 66.2 738.7 C67.1 737.4 68.5 735.0 69.6 733.6 C70.7 732.3 72.1 731.0 73.0 730.2 C74.0 729.4 74.7 728.1 75.6 728.5 C76.4 728.9 77.3 731.5 78.1 732.8 C78.9 734.0 79.9 736.4 80.7 736.2 C81.5 735.9 82.4 732.7 83.2 731.1 C84.1 729.4 85.0 727.2 85.8 725.9 C86.6 724.7 87.5 723.1 88.4 723.4 C89.2 723.7 90.1 726.1 90.9 727.6 C91.7 729.1 92.5 731.9 93.5 732.8 C94.4 733.6 95.8 732.5 96.9 732.8 C98.0 733.0 99.2 732.8 100.3 734.5 C101.4 736.1 102.6 740.5 103.7 743.0 C104.8 745.5 106.0 748.3 107.1 749.8 C108.2 751.3 109.4 752.1 110.5 752.4 C111.6 752.7 112.9 752.1 114.0 751.9 C115.0 751.6 116.4 751.3 117.4 750.7 C118.3 750.1 119.1 749.1 119.9 748.1 C120.7 747.2 121.7 744.7 122.5 744.7 C123.3 744.7 124.2 747.1 125.0 748.1 C125.9 749.2 126.6 750.6 127.6 751.2 C128.6 751.8 129.4 751.8 131.0 751.9 C132.6 752.0 136.4 752.1 137.8 751.9 C139.3 751.7 139.2 750.6 140.2 750.7 C141.2 750.9 142.3 752.9 143.9 752.8 C145.5 752.7 148.8 750.0 150.3 749.8 C151.8 749.6 151.7 751.6 153.1 751.6 C154.4 751.6 156.8 749.8 158.6 749.8 C160.3 749.8 162.3 751.6 164.1 751.6 C165.9 751.6 168.1 750.7 169.6 749.8 C171.1 748.9 172.1 747.2 173.3 746.1 C174.5 745.0 175.8 742.5 177.0 742.8 C178.1 743.1 179.5 746.4 180.6 748.0 C181.8 749.5 182.2 751.8 184.3 752.6 C186.4 753.3 190.8 752.9 193.5 752.8 C196.1 752.7 198.5 751.7 200.8 751.6 C203.2 751.6 205.8 752.4 208.2 752.6 C210.5 752.7 213.2 752.8 215.5 752.8 C217.9 752.8 220.5 752.9 222.9 752.6 C225.2 752.2 228.0 751.4 230.2 750.7 C232.4 750.0 234.9 748.0 236.7 748.0 C238.4 748.0 238.3 750.4 241.3 750.7 C244.2 751.1 251.5 750.4 254.9 750.1 C258.3 749.8 260.2 748.7 262.4 748.9 C264.6 749.1 266.7 751.8 268.6 751.4 C270.6 751.0 272.5 747.2 274.9 746.4 C277.3 745.6 281.0 747.0 283.6 746.4 C286.2 745.8 288.9 744.1 291.1 742.6 C293.3 741.2 295.3 737.5 297.3 737.1 C299.3 736.8 301.6 739.8 303.6 740.6 C305.6 741.5 307.8 742.5 309.8 742.6 C311.8 742.8 313.6 741.2 316.0 741.4 C318.4 741.6 321.8 743.1 324.8 743.9 C327.7 744.7 331.9 745.5 334.7 746.4 C337.5 747.3 340.2 748.9 342.2 749.6 C344.2 750.3 344.4 750.5 347.2 750.6 C350.0 750.7 356.1 750.0 359.7 750.1 C363.3 750.2 365.6 751.6 369.6 751.4 C373.6 751.2 380.6 749.5 384.6 748.9 C388.6 748.3 391.4 747.1 394.6 747.6 C397.8 748.1 400.7 751.6 404.5 752.1 C408.4 752.6 415.0 751.2 418.4 750.7 C421.8 750.2 423.7 748.9 425.7 748.9 C427.8 748.9 429.2 750.1 431.2 750.7 C433.3 751.3 436.2 752.4 438.6 752.6 C440.9 752.7 443.3 751.9 445.9 751.6 C448.6 751.3 452.5 751.3 455.1 750.7 C457.8 750.1 460.1 748.1 462.5 748.0 C464.8 747.8 467.5 749.4 469.8 749.8 C472.2 750.2 474.8 750.4 477.2 750.7 C479.5 751.0 482.2 751.6 484.5 751.6 C486.9 751.6 489.4 751.2 491.9 750.7 C494.4 750.2 497.8 748.5 500.1 748.3 C502.5 748.2 504.4 749.2 506.6 749.8 C508.8 750.4 511.6 751.9 513.9 752.0 C516.3 752.1 519.2 751.5 521.3 750.7 C523.3 749.9 524.9 747.3 526.8 747.0 C528.7 746.8 530.1 748.7 533.2 749.2 C536.4 749.7 543.3 749.9 546.5 750.2 C549.6 750.5 551.0 752.0 553.1 751.2 C555.2 750.4 557.6 747.2 559.7 745.3 C561.8 743.3 564.5 740.9 566.3 739.3 C568.2 737.7 569.8 737.6 571.3 735.3 C572.8 733.1 574.5 728.3 575.6 725.4 C576.6 722.5 577.1 718.7 577.9 717.1 C578.7 715.5 579.7 714.6 580.6 715.5 C581.5 716.4 582.4 719.6 583.5 722.8 C584.7 725.9 586.3 732.0 587.8 735.3 C589.3 738.7 590.9 741.5 592.8 743.6 C594.6 745.7 597.3 747.5 599.4 748.6 C601.5 749.6 601.8 749.5 606.0 750.2 C610.3 750.9 620.6 752.6 625.9 752.8 C631.2 753.0 635.4 751.6 639.1 751.2 C642.8 750.8 646.4 751.1 649.0 750.2 C651.7 749.4 653.8 746.8 655.7 745.9 C657.5 745.0 658.8 744.4 660.6 744.6 C662.5 744.8 664.3 746.7 667.2 746.9 C670.2 747.1 675.4 745.4 678.8 745.9 C682.3 746.4 686.0 749.4 688.8 750.2 C691.5 751.1 694.9 751.1 696.0 751.2" fill="none" stroke="#e01e14" stroke-width="1.7" stroke-linejoin="round"/><path d="M21.8 752.8 C25.1 752.8 38.5 753.1 42.3 752.8 C46.1 752.5 44.6 751.3 45.7 750.7 C46.8 750.1 48.2 749.0 49.1 749.0 C50.1 749.0 50.9 750.1 51.7 750.7 C52.5 751.3 52.5 752.5 54.2 752.8 C56.0 753.1 61.0 752.8 62.8 752.6 C64.5 752.3 64.5 751.2 65.3 751.2 C66.1 751.2 66.7 752.4 67.9 752.6 C69.1 752.7 71.4 752.2 73.0 752.2 C74.6 752.2 76.9 753.5 78.1 752.6 C79.4 751.6 79.9 749.6 80.7 746.4 C81.5 743.2 82.4 736.9 83.2 732.8 C84.1 728.7 85.0 723.2 85.8 720.8 C86.6 718.4 87.3 717.3 88.0 717.7 C88.7 718.2 89.3 722.2 90.1 723.4 C90.8 724.6 91.9 725.1 92.6 725.1 C93.4 725.1 94.2 722.7 94.8 723.4 C95.5 724.1 96.2 725.9 96.9 729.4 C97.6 732.8 98.6 741.1 99.4 744.7 C100.3 748.3 100.8 750.6 102.0 751.9 C103.2 753.1 105.8 752.9 107.1 752.6 C108.5 752.2 109.6 751.1 110.5 749.8 C111.5 748.6 112.4 745.8 113.1 744.7 C113.8 743.6 114.3 742.7 114.8 743.0 C115.3 743.3 116.0 745.6 116.5 746.4 C117.1 747.2 117.7 747.2 118.2 747.8 C118.8 748.3 119.0 749.3 119.9 749.8 C120.9 750.4 122.4 750.9 124.2 751.2 C126.0 751.5 128.8 752.1 131.0 751.9 C133.2 751.7 136.5 750.2 137.8 749.8 C139.2 749.5 138.5 750.4 139.3 749.8 C140.1 749.2 141.8 745.8 143.0 746.1 C144.1 746.4 145.5 751.3 146.6 751.6 C147.8 751.9 149.3 748.1 150.3 748.0 C151.3 747.8 152.0 749.9 153.1 750.7 C154.1 751.5 154.7 752.5 156.7 752.8 C158.8 753.1 163.3 753.1 165.9 752.8 C168.6 752.5 171.2 751.3 173.3 750.7 C175.3 750.2 177.0 749.6 178.8 749.4 C180.6 749.3 182.0 749.4 184.3 749.8 C186.7 750.1 190.8 751.5 193.5 751.6 C196.1 751.8 198.8 750.6 200.8 750.7 C202.9 750.9 204.0 752.3 206.3 752.6 C208.7 752.8 212.9 752.4 215.5 752.0 C218.2 751.6 221.0 750.7 222.9 749.8 C224.8 748.9 226.0 746.1 227.5 746.1 C228.9 746.1 230.5 748.9 232.1 749.8 C233.7 750.7 233.9 751.9 237.6 752.0 C241.2 752.1 251.4 751.0 254.9 750.6 C258.5 750.2 258.1 749.5 259.9 749.6 C261.7 749.7 263.8 750.9 266.2 751.4 C268.5 751.8 272.7 752.6 274.9 752.6 C277.1 752.6 278.1 751.4 279.9 751.4 C281.7 751.4 284.3 753.0 286.1 752.6 C287.9 752.2 289.3 749.7 291.1 748.9 C292.9 748.1 295.5 747.7 297.3 747.6 C299.1 747.5 300.9 748.7 302.3 748.1 C303.7 747.5 304.9 747.5 306.1 743.9 C307.2 740.2 308.2 731.2 309.3 725.2 C310.4 719.2 311.7 710.1 312.8 706.5 C313.9 702.9 315.0 702.1 316.0 702.7 C317.1 703.3 318.2 706.6 319.3 710.2 C320.3 713.8 321.7 720.8 322.8 725.2 C323.8 729.6 324.9 734.7 326.0 737.6 C327.1 740.6 328.3 742.3 329.7 743.9 C331.1 745.5 333.1 746.3 334.7 747.6 C336.3 748.9 337.3 751.5 339.7 752.1 C342.1 752.7 346.5 751.4 349.7 751.4 C352.9 751.4 356.5 752.3 359.7 752.1 C362.9 751.9 366.4 750.6 369.6 750.1 C372.8 749.6 376.4 748.9 379.6 748.9 C382.8 748.9 386.4 750.3 389.6 750.1 C392.8 749.9 396.8 748.5 399.6 747.6 C402.3 746.7 405.2 744.6 407.0 744.6 C408.9 744.7 409.7 747.0 411.0 748.0 C412.4 748.9 413.6 750.1 415.6 750.7 C417.7 751.4 421.7 752.1 423.9 752.0 C426.1 751.9 427.9 750.6 429.4 749.8 C430.9 749.0 431.9 746.9 433.1 747.0 C434.2 747.2 435.4 749.8 436.7 750.7 C438.1 751.6 439.9 752.8 441.3 752.8 C442.8 752.8 444.5 751.6 445.9 750.7 C447.4 749.8 449.1 747.5 450.5 747.0 C452.0 746.6 453.5 747.7 455.1 748.0 C456.7 748.3 458.6 748.9 460.6 748.9 C462.7 748.9 465.9 747.7 468.0 748.0 C470.0 748.3 471.4 750.1 473.5 750.7 C475.5 751.3 478.5 751.3 480.8 751.6 C483.2 752.0 486.3 753.1 488.2 752.8 C490.1 752.5 491.6 750.6 492.8 749.8 C494.0 749.0 494.5 747.8 495.5 748.0 C496.6 748.1 497.7 750.4 499.2 750.7 C500.7 751.0 503.3 750.3 504.7 749.8 C506.2 749.3 506.9 747.4 508.4 747.6 C509.9 747.7 511.9 749.9 513.9 750.7 C516.0 751.5 518.9 752.7 521.3 752.8 C523.6 752.9 525.6 751.9 528.6 751.6 C531.6 751.4 536.5 751.2 539.9 751.2 C543.2 751.2 547.1 752.6 549.8 751.9 C552.4 751.2 554.5 749.6 556.4 746.9 C558.3 744.3 560.0 739.3 561.4 735.3 C562.7 731.4 563.7 725.0 564.7 722.1 C565.6 719.2 566.4 717.2 567.3 717.1 C568.2 717.0 569.4 720.5 570.3 721.4 C571.2 722.3 572.0 723.4 572.9 722.8 C573.9 722.1 575.3 717.8 576.3 717.1 C577.2 716.5 577.9 716.4 578.9 718.8 C579.9 721.2 581.0 728.0 582.2 732.0 C583.4 736.0 584.7 740.8 586.2 743.6 C587.6 746.4 589.0 748.2 591.1 749.2 C593.3 750.3 596.0 750.2 599.4 750.2 C602.9 750.2 610.0 748.9 612.6 749.2 C615.3 749.6 614.6 752.4 616.0 752.5 C617.3 752.7 618.3 750.4 620.9 750.2 C623.6 750.0 628.5 751.7 632.5 751.2 C636.5 750.7 642.3 748.3 645.7 746.9 C649.2 745.5 651.8 743.6 654.0 742.6 C656.2 741.7 657.8 740.5 659.6 741.0 C661.5 741.4 663.0 744.3 665.6 745.3 C668.1 746.2 672.3 746.3 675.5 746.9 C678.7 747.5 682.2 749.1 685.4 749.2 C688.7 749.4 694.3 748.1 696.0 747.9" fill="none" stroke="#1ee61e" stroke-width="1.7" stroke-linejoin="round"/><rect x="694.4" y="486.5" width="2" height="267.5" fill="#000"/><rect x="21.7" y="753" width="2" height="7.2" fill="#000"/><text x="22.7" y="784" font-size="17.5" text-anchor="middle" font-weight="normal" fill="#000" >0.02</text><rect x="133.9" y="753" width="2" height="7.2" fill="#000"/><text x="134.9" y="784" font-size="17.5" text-anchor="middle" font-weight="normal" fill="#000" >0.03</text><rect x="246.1" y="753" width="2" height="7.2" fill="#000"/><text x="247.1" y="784" font-size="17.5" text-anchor="middle" font-weight="normal" fill="#000" >0.04</text><rect x="358.4" y="753" width="2" height="7.2" fill="#000"/><text x="359.4" y="784" font-size="17.5" text-anchor="middle" font-weight="normal" fill="#000" >0.05</text><rect x="470.6" y="753" width="2" height="7.2" fill="#000"/><text x="471.6" y="784" font-size="17.5" text-anchor="middle" font-weight="normal" fill="#000" >0.06</text><rect x="582.8" y="753" width="2" height="7.2" fill="#000"/><text x="583.8" y="784" font-size="17.5" text-anchor="middle" font-weight="normal" fill="#000" >0.07</text><rect x="695.0" y="753" width="2" height="7.2" fill="#000"/><text x="696.0" y="784" font-size="17.5" text-anchor="middle" font-weight="normal" fill="#000" >0.08</text><rect x="696" y="751.1" width="8" height="2" fill="#000"/><text x="712.3" y="758.0" font-size="17.5" text-anchor="start" font-weight="normal" fill="#000" >0.0</text><rect x="696" y="703.1" width="8" height="2" fill="#000"/><text x="712.3" y="710.0" font-size="17.5" text-anchor="start" font-weight="normal" fill="#000" >0.2</text><rect x="696" y="655.0" width="8" height="2" fill="#000"/><text x="712.3" y="661.9" font-size="17.5" text-anchor="start" font-weight="normal" fill="#000" >0.4</text><rect x="696" y="607.0" width="8" height="2" fill="#000"/><text x="712.3" y="613.9" font-size="17.5" text-anchor="start" font-weight="normal" fill="#000" >0.6</text><rect x="696" y="558.9" width="8" height="2" fill="#000"/><text x="712.3" y="565.8" font-size="17.5" text-anchor="start" font-weight="normal" fill="#000" >0.8</text><rect x="696" y="510.9" width="8" height="2" fill="#000"/><text x="712.3" y="517.8" font-size="17.5" text-anchor="start" font-weight="normal" fill="#000" >1.0</text><text transform="translate(757.6,620) rotate(-90)" font-size="17.5" text-anchor="middle">Intensity (a.u.)</text><text x="73" y="661" font-size="17.5" text-anchor="middle" font-weight="normal" fill="#000" >M1</text><text x="301" y="671" font-size="17.5" text-anchor="middle" font-weight="normal" fill="#000" >M2</text><text x="552" y="702" font-size="17.5" text-anchor="middle" font-weight="normal" fill="#000" >M3</text>
</svg>
</body></html>
